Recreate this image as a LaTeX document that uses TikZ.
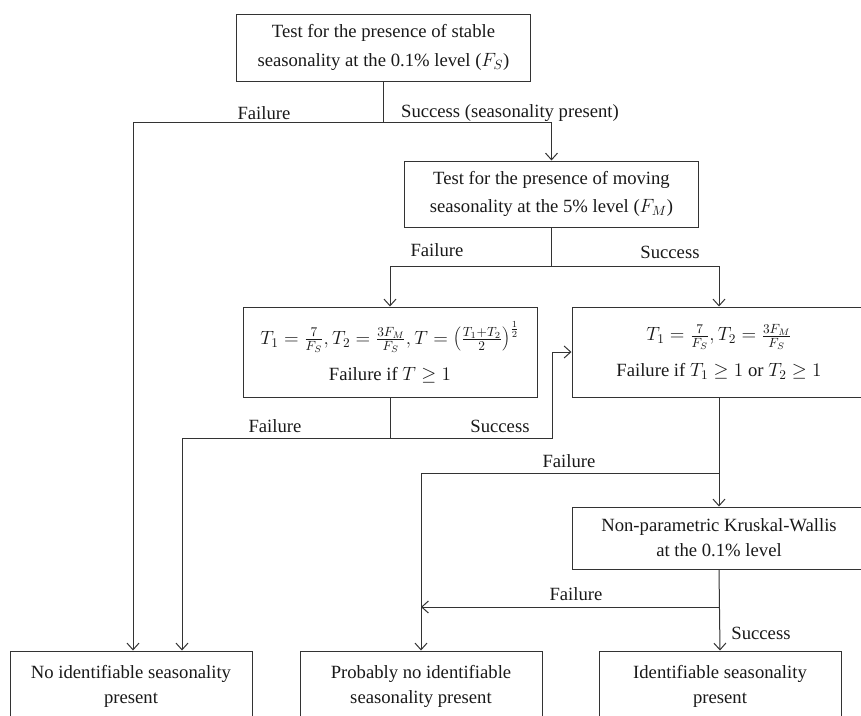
\documentclass[tikz,border=0pt]{standalone}
\usepackage{fontspec}
\setmainfont{Liberation Serif}
\usetikzlibrary{arrows.meta}
\begin{document}
\begin{tikzpicture}[x=0.75pt,y=-0.75pt,
  box/.style={draw=black!80, line width=0.75pt, minimum width=220.5pt, align=center, inner sep=0pt, text=black!90},
  bbox/.style={box, minimum width=181.5pt, minimum height=52.5pt, font=\fontsize{14}{18.75}\selectfont},
  conn/.style={draw=black!80, line width=0.75pt},
  arr/.style={conn, -{Straight Barb[length=5pt,width=9pt,line width=0.75pt]}},
  lbl/.style={font=\fontsize{14}{16}\selectfont, inner sep=0pt, text=black!90}]
\path[use as bounding box, clip] (0,0) rectangle (861,715);

% boxes
\node[box, minimum height=50.25pt, font=\fontsize{14}{21.75}\selectfont] (b1) at (383.5,47.5)
  {Test for the presence of stable\\seasonality at the 0.1\% level ($F_S$)};
\node[box, minimum height=49.5pt, font=\fontsize{14}{21}\selectfont] (b2) at (551.5,194)
  {Test for the presence of moving\\seasonality at the 5\% level ($F_M$)};
\node[box, minimum height=67.5pt, font=\fontsize{14}{27}\selectfont] (b3) at (390,352)
  {$T_1=\frac{7}{F_S}, T_2=\frac{3F_M}{F_S}, T=\left(\frac{T_1+T_2}{2}\right)^{\frac{1}{2}}$\\Failure if $T\geq 1$};
\node[box, minimum height=67.5pt, font=\fontsize{14}{27}\selectfont] (b4) at (719,352)
  {$T_1=\frac{7}{F_S}, T_2=\frac{3F_M}{F_S}$\\Failure if $T_1\geq 1$ or $T_2\geq 1$};
\node[box, minimum height=46.5pt, font=\fontsize{14}{18.75}\selectfont] (kw) at (719,538)
  {Non-parametric Kruskal-Wallis\\at the 0.1\% level};
\node[bbox] (r1) at (131,686) {No identifiable seasonality\\present};
\node[bbox] (r2) at (421,686) {Probably no identifiable\\seasonality present};
\node[bbox] (r3) at (720,686) {Identifiable seasonality\\present};

% junction levels
\coordinate (s1) at (385,122);
\coordinate (s2) at (550,266);
\coordinate (s3) at (552,438);
\coordinate (s4) at (719,473);
\coordinate (s5) at (719,607);

% connectors
\draw[conn] (b1.south) -- (b1.south|-s1);
\draw[arr] (b1.south|-s1) -| ([xshift=1.5pt]r1.north);
\draw[arr] (b1.south|-s1) -| (b2.north);

\draw[conn] (b2.south) -- (b2.south|-s2);
\draw[arr] (b2.south|-s2) -| (b3.north);
\draw[arr] (b2.south|-s2) -| (b4.north);

\draw[conn] (b3.south) -- (b3.south|-s3);
\draw[arr] (b3.south|-s3) -| ([xshift=38.25pt]r1.north);
\draw[arr] (b3.south|-s3) -- (s3) |- (b4.west);

\draw[arr] (b4.south) -- (kw.north);
\draw[arr] (s4) -| (r2.north);
\draw[arr] (kw.south) -- (r3.north);
\draw[arr] (s5) -- (r2.north|-s5);

% labels
\node[lbl] (l1) at (264,113) {Failure};
\node[lbl] (l2) at (510,113) {Success (seasonality present)};
\node[lbl] (l3) at (437,250) {Failure};
\node[lbl] (l4) at (670,252) {Success};
\node[lbl] (l5) at (275,426) {Failure};
\node[lbl] (l6) at (500,426) {Success};
\node[lbl] (l7) at (569,461) {Failure};
\node[lbl] (l8) at (576,594) {Failure};
\node[lbl] (l9) at (761,633) {Success};
\end{tikzpicture}
\end{document}
